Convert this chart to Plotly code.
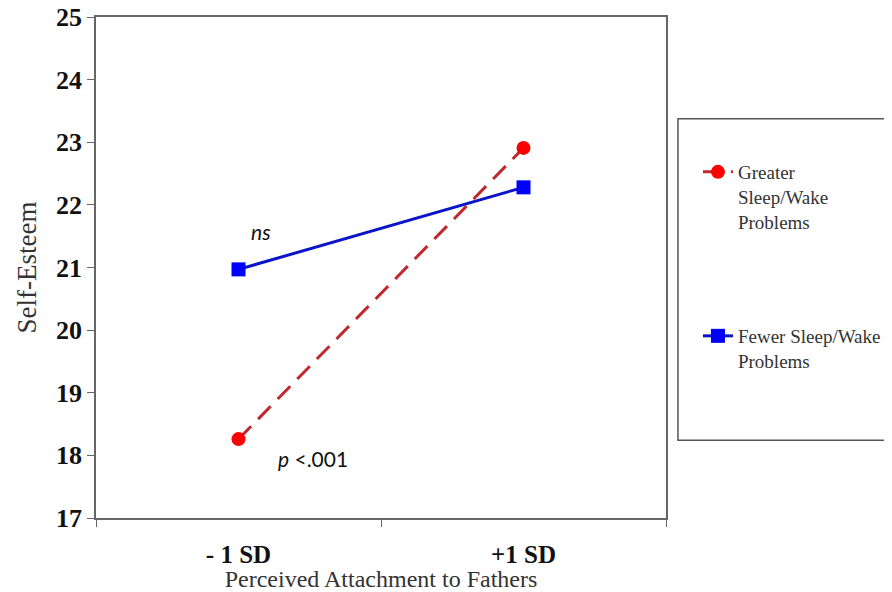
import plotly.graph_objects as go

categories = ["- 1 SD", "+1 SD"]
greater_problems = [18.26, 22.91]
fewer_problems = [20.97, 22.28]
y_ticks = [17, 18, 19, 20, 21, 22, 23, 24, 25]

SERIF = "Liberation Serif"
SANS = "Lato"

fig = go.Figure()
fig.add_trace(go.Scatter(
    x=categories, y=greater_problems, mode="lines+markers",
    name="Greater<br>Sleep/Wake<br>Problems",
    line=dict(color="#C0282D", width=3, dash="18px,10px"),
    marker=dict(symbol="circle", size=14, color="#FF0000"),
    legend="legend",
))
fig.add_trace(go.Scatter(
    x=categories, y=fewer_problems, mode="lines+markers",
    name="Fewer Sleep/Wake<br>Problems",
    line=dict(color="#0A14C8", width=3),
    marker=dict(symbol="square", size=14, color="#0000FF"),
    legend="legend2",
))

fig.add_annotation(x=0.08, y=21.58, xref="x", yref="y", text="<i>ns</i>",
                   showarrow=False, font=dict(family=SANS, size=21, color="#111"))
fig.add_annotation(x=0.26, y=17.95, xref="x", yref="y", text="<i>p</i> <.001",
                   showarrow=False, font=dict(family=SANS, size=21, color="#111"))

# legend frame
fig.add_shape(type="rect", xref="paper", yref="paper",
              x0=1.021, x1=1.394, y0=0.155, y1=0.797,
              line=dict(color="#555555", width=1.5), fillcolor="rgba(0,0,0,0)")

legend_font = dict(family=SERIF, size=19, color="#333")
fig.update_layout(
    width=884, height=584,
    margin=dict(l=88, r=226, t=9, b=74),
    paper_bgcolor="white", plot_bgcolor="white",
    showlegend=True,
    legend=dict(xref="container", yref="container", x=0.7805, y=0.7517,
                xanchor="left", yanchor="top", valign="top",
                font=legend_font, bgcolor="rgba(0,0,0,0)", borderwidth=0),
    legend2=dict(xref="container", yref="container", x=0.7805, y=0.4709,
                 xanchor="left", yanchor="top", valign="top",
                 font=legend_font, bgcolor="rgba(0,0,0,0)", borderwidth=0),
    xaxis=dict(
        type="category", categoryarray=categories, range=[-0.5, 1.5],
        tickson="boundaries", ticks="outside", ticklen=7, tickcolor="#666",
        showline=True, linecolor="#666", linewidth=1.5, mirror=True,
        showgrid=False, zeroline=False, automargin=False,
        tickfont=dict(family=SERIF, size=25, color="#111", weight="bold"),
        ticklabelstandoff=13,
        title=dict(text="Perceived Attachment to Fathers", standoff=0,
                   font=dict(family=SERIF, size=24, color="#333")),
    ),
    yaxis=dict(
        range=[17, 25], tickvals=y_ticks, ticks="outside", ticklen=7, tickcolor="#666",
        showline=True, linecolor="#666", linewidth=1.5, mirror=True,
        showgrid=False, zeroline=False, automargin=False,
        ticklabeloverflow="allow",
        tickfont=dict(family=SERIF, size=26, color="#111", weight="bold"),
        title=dict(text="Self-Esteem", standoff=12,
                   font=dict(family=SERIF, size=27, color="#333")),
    ),
)

fig.write_html("out.html")
